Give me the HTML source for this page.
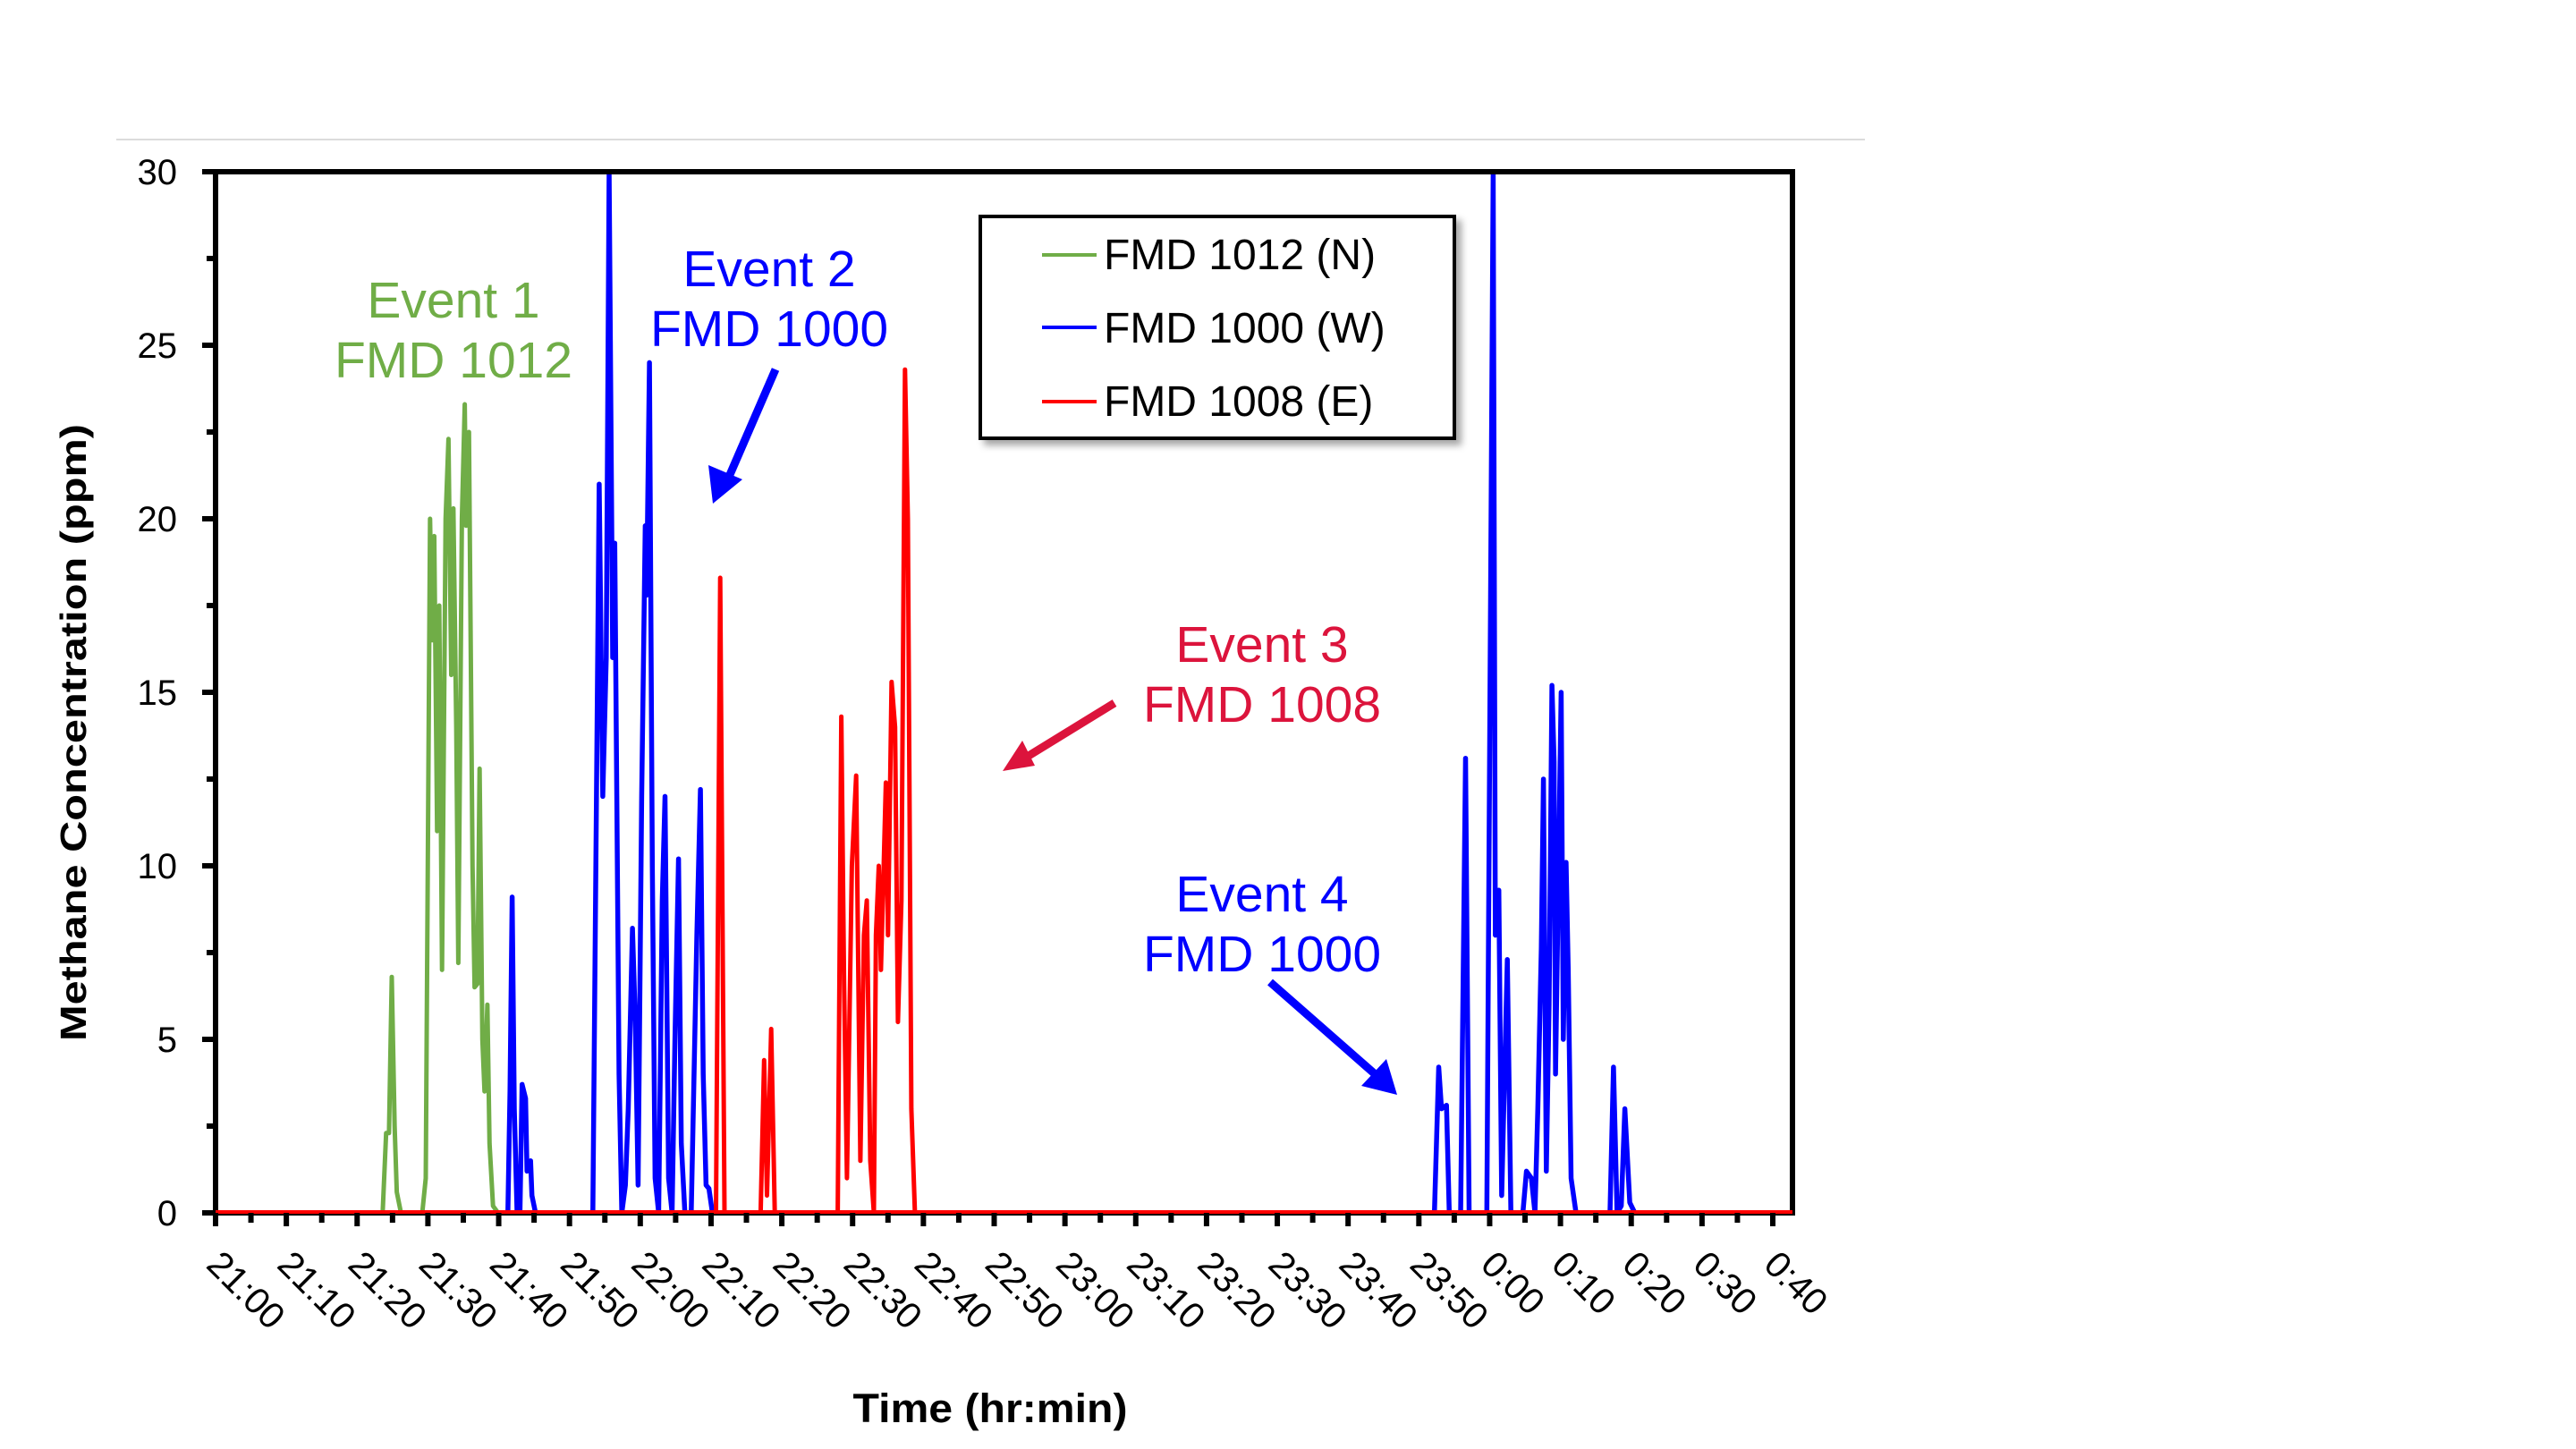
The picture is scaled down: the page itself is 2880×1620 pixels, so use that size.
<!DOCTYPE html>
<html><head><meta charset="utf-8"><style>
html,body{margin:0;padding:0;background:#fff;}
svg{display:block;}
text{font-family:"Liberation Sans",sans-serif;}
</style></head><body>
<svg id="chart" width="2880" height="1620" viewBox="0 0 2880 1620">
<defs>
<filter id="sh" x="-5%" y="-5%" width="115%" height="120%"><feDropShadow dx="6" dy="6" stdDeviation="4" flood-color="#000" flood-opacity="0.35"/></filter>
</defs>
<line x1="130" y1="156" x2="2085" y2="156" stroke="#dcdcdc" stroke-width="2"/>
<g id="series"></g>
<g id="axes"></g>
<g>
<text x="507" y="355" font-size="57" fill="#70ad47" text-anchor="middle">Event 1</text>
<text x="507" y="422" font-size="57" fill="#70ad47" text-anchor="middle">FMD 1012</text>
<text x="860" y="320" font-size="57" fill="#0000ff" text-anchor="middle">Event 2</text>
<text x="860" y="387" font-size="57" fill="#0000ff" text-anchor="middle">FMD 1000</text>
<text x="1411" y="740" font-size="57" fill="#dc143c" text-anchor="middle">Event 3</text>
<text x="1411" y="807" font-size="57" fill="#dc143c" text-anchor="middle">FMD 1008</text>
<text x="1411" y="1019" font-size="57" fill="#0000ff" text-anchor="middle">Event 4</text>
<text x="1411" y="1086" font-size="57" fill="#0000ff" text-anchor="middle">FMD 1000</text>
<g>
<line x1="867" y1="413" x2="812" y2="540" stroke="#0000ff" stroke-width="9"/>
<polygon points="797,563 792,520 830,536" fill="#0000ff"/></g>
<g>
<line x1="1246" y1="786" x2="1145" y2="848" stroke="#dc143c" stroke-width="9"/>
<polygon points="1121,862 1143,828 1157,856" fill="#dc143c"/></g>
<g>
<line x1="1420" y1="1098" x2="1542" y2="1205" stroke="#0000ff" stroke-width="9"/>
<polygon points="1562,1224 1522,1214 1550,1184" fill="#0000ff"/></g>
</g>
<g>
<rect x="1096" y="242" width="530" height="248" fill="#fff" stroke="#000" stroke-width="4" filter="url(#sh)"/>
<g><line x1="1165" y1="285" x2="1226" y2="285" stroke="#70ad47" stroke-width="4"/><text x="1234" y="301" font-size="48" fill="#000">FMD 1012 (N)</text></g>
<g><line x1="1165" y1="366" x2="1226" y2="366" stroke="#0000ff" stroke-width="4"/><text x="1234" y="383" font-size="48" fill="#000">FMD 1000 (W)</text></g>
<g><line x1="1165" y1="449" x2="1226" y2="449" stroke="#ff0000" stroke-width="4"/><text x="1234" y="465" font-size="48" fill="#000">FMD 1008 (E)</text></g>
</g>
<text x="96" y="819" font-size="41" font-weight="bold" text-anchor="middle" transform="rotate(-90 96 819)" textLength="690" lengthAdjust="spacingAndGlyphs">Methane Concentration (ppm)</text>
<text x="1107" y="1590" font-size="45" font-weight="bold" text-anchor="middle" textLength="307" lengthAdjust="spacingAndGlyphs">Time (hr:min)</text>
</svg>
<script>
// minutes after 21:00, concentration (ppm)
const greenT = [0,23.6,24.1,24.5,24.9,25.3,25.6,26.2,29.2,29.7,30.3,30.6,30.9,31.3,31.6,32.0,32.5,32.9,33.3,33.6,34.0,34.3,34.8,35.2,35.4,35.8,36.3,36.6,37.0,37.3,37.7,38.0,38.4,38.7,39.2,39.9];
const greenV = [0,0,2.3,2.3,6.8,2.5,0.6,0,0,1,20,16.5,19.5,11,17.5,7,20,22.3,15.5,20.3,14,7.2,20,23.3,19.8,22.5,10,6.5,6.6,12.8,5,3.5,6,2,0.2,0];
const blueT = [41.3,41.6,41.9,42.2,42.6,43.0,43.3,43.8,44.0,44.5,44.7,45.2,53.3,54.2,54.7,55.2,55.6,56.1,56.4,57.0,57.4,57.9,58.3,58.9,59.3,59.7,60.2,60.7,60.9,61.3,61.7,62.1,62.6,63.1,63.5,64.0,64.5,64.9,65.4,65.8,66.3,67.2,68.0,68.5,68.9,69.3,69.7,70.2,172.2,172.8,173.2,173.9,174.3,175.9,176.6,177.1,179.6,180.5,180.8,181.3,181.7,182.5,183.0,184.7,185.2,185.9,186.4,186.8,187.3,187.6,188.0,188.4,188.8,189.1,189.3,190.1,190.4,190.8,191.1,191.5,192.2,197.0,197.5,198.0,198.6,199.1,199.8,200.5];
const blueV = [0,3.5,9.1,3,0,0,3.7,3.3,1.2,1.5,0.5,0,0,21,12,16,30,16,19.3,4,0,0.8,3,8.2,5.5,0.8,12,19.8,17.8,24.5,10,1,0,9,12,1,0,5,10.2,2,0,0,8,12.2,4,0.8,0.7,0,0,4.2,3,3.1,0,0,13.1,0,0,30,8,9.3,0.5,7.3,0,0,1.2,1,0,3,7.6,12.5,1.2,6,15.2,13,4,15,5,10.1,7,1,0,0,4.2,0,0.2,3,0.3,0];
const redT = [0,70.7,71.3,71.9,77.0,77.5,77.9,78.5,79.0,87.9,88.4,88.8,89.2,89.9,90.5,91.1,91.6,92.0,92.5,93.0,93.3,93.7,94.0,94.4,94.7,95.0,95.5,96.0,96.4,96.9,97.4,97.8,98.3,98.8,222.8];
const redV = [0,0,18.3,0,0,4.4,0.5,5.3,0,0,14.3,6.6,1,10,12.6,1.5,8,9,1.5,0,8,10,7,10,12.4,8,15.3,14,5.5,9,24.3,20,3,0,0];
const yTicks = [0,5,10,15,20,25,30];
const xLabels = ["21:00","21:10","21:20","21:30","21:40","21:50","22:00","22:10","22:20","22:30","22:40","22:50","23:00","23:10","23:20","23:30","23:40","23:50","0:00","0:10","0:20","0:30","0:40"];

const X0=241, PXM=(1982-241)/220, Y0=1356, PXV=(1356-192)/30, XR=2004, YT=192;
const xs = m => X0 + m*PXM;
const ys = v => Y0 - Math.min(v,30)*PXV;
const NS="http://www.w3.org/2000/svg";
const ser=document.getElementById('series'), ax=document.getElementById('axes');
function mk(tag,attrs,parent){const e=document.createElementNS(NS,tag);for(const k in attrs)e.setAttribute(k,attrs[k]);parent.appendChild(e);return e;}
function line(T,V,color,w,name,extend){
  let pts=[];
  if(extend) pts.push([xs(0),ys(0)]);
  for(let i=0;i<T.length;i++)pts.push([xs(T[i]),ys(V[i])]);
  if(extend) pts.push([xs(222.8),ys(0)]);
  const p=mk('polyline',{points:pts.map(p=>p[0].toFixed(1)+','+p[1].toFixed(1)).join(' '),fill:'none',stroke:color,'stroke-width':w,'stroke-linejoin':'round'},ser);
  
  
}
line(greenT,greenV,'#70ad47',5,'series-fmd1012',true);
line(blueT,blueV,'#0000ff',5.5,'series-fmd1000',true);
line(redT,redV,'#ff0000',5,'series-fmd1008',false);
const fr=mk('rect',{x:X0,y:YT,width:XR-X0,height:Y0-YT,fill:'none',stroke:'#000','stroke-width':6},ax);


const bl=mk('line',{x1:X0,y1:Y0-1,x2:XR,y2:Y0-1,stroke:'#ff0000','stroke-width':4},ax);


for(let v=0;v<=30;v+=2.5){
  const major = yTicks.includes(v);
  const t=mk('line',{x1:major?226:231,y1:ys(v),x2:X0,y2:ys(v),stroke:'#000','stroke-width':6},ax);
  
  
}
yTicks.forEach(v=>{
  const t=mk('text',{x:198,y:ys(v)+14,'font-size':40,'text-anchor':'end',fill:'#000'},ax);
  t.textContent=v;
  
  
});
for(let m=0;m<=220;m+=5){
  const t=mk('line',{x1:xs(m),y1:Y0,x2:xs(m),y2:Y0+(m%10===0?15:11),stroke:'#000','stroke-width':6},ax);
  
  
}
xLabels.forEach((lab,i)=>{
  const x=xs(i*10)-12, y=1416;
  const t=mk('text',{x:x,y:y,'font-size':41,fill:'#000',transform:'rotate(45 '+x+' '+y+')'},ax);
  t.textContent=lab;
  
  
});
</script>
</body></html>
